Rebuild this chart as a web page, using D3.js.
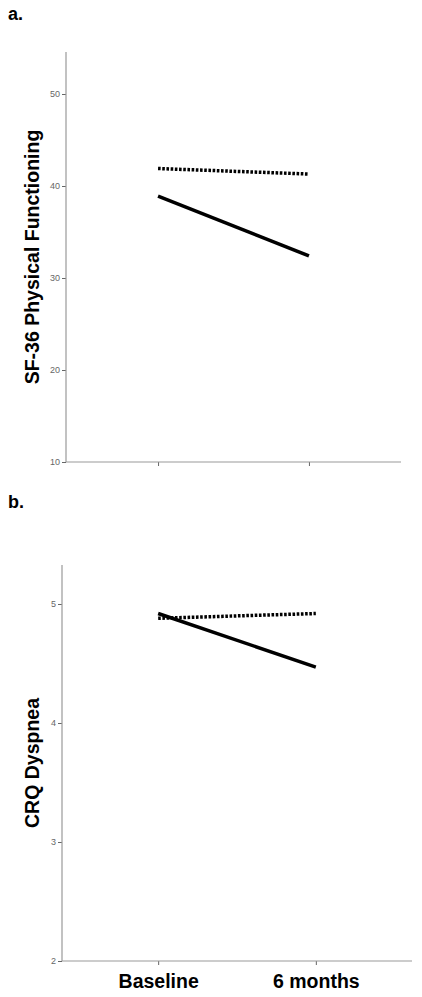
<!DOCTYPE html>
<html>
<head>
<meta charset="utf-8">
<script src="https://cdn.jsdelivr.net/npm/d3@7"></script>
<style>
  body { margin: 0; background: #fff; }
  svg { display: block; }
  .tick text { font-family: "Liberation Sans", Arial, sans-serif; }
</style>
</head>
<body>
<svg width="422" height="997"></svg>
<script>
// time points
var timepoints = ["Baseline", "6 months"];

// panel a: SF-36 Physical Functioning
var sf36Solid = [38.9, 32.4];
var sf36Dotted = [41.9, 41.3];
var sf36Ticks = [10, 20, 30, 40, 50];

// panel b: CRQ Dyspnea
var crqSolid = [4.92, 4.47];
var crqDotted = [4.88, 4.92];
var crqTicks = [2, 3, 4, 5];

var svg = d3.select("svg");

function drawPanel(opts) {
    var g = svg.append("g");

    var x = d3.scalePoint()
        .domain(timepoints)
        .range([opts.left, opts.right])
        .padding(0.61);

    var y = d3.scaleLinear()
        .domain(opts.domain)
        .range([opts.bottom, opts.bottomVal]);

    // panel letter
    g.append("text")
        .attr("x", 8)
        .attr("y", opts.letterY)
        .attr("font-family", "Liberation Sans, Arial, sans-serif")
        .attr("font-weight", "bold")
        .attr("font-size", 18)
        .text(opts.letter);

    // y axis
    var yAxis = g.append("g")
        .attr("transform", "translate(" + opts.left + ",0)")
        .call(d3.axisLeft(y).tickValues(opts.ticks).tickSize(4).tickPadding(2).tickFormat(d3.format("d")));
    yAxis.select(".domain").remove();
    yAxis.selectAll(".tick line").attr("stroke", "#666");
    yAxis.selectAll(".tick text").attr("fill", "#666").attr("font-size", 9);
    g.append("line")
        .attr("x1", opts.left).attr("x2", opts.left)
        .attr("y1", opts.top).attr("y2", opts.bottom)
        .attr("stroke", "#999").attr("stroke-width", 1.2);

    // x axis
    var xAxis = g.append("g")
        .attr("transform", "translate(0," + opts.bottom + ")")
        .call(d3.axisBottom(x).tickSize(4).tickPadding(9));
    xAxis.select(".domain").remove();
    xAxis.selectAll(".tick line").attr("stroke", "#666");
    xAxis.selectAll(".tick text")
        .attr("fill", "#000")
        .attr("font-size", 19.5)
        .attr("font-weight", "bold")
        .style("display", opts.showLabels ? null : "none");
    g.append("line")
        .attr("x1", opts.left).attr("x2", opts.right)
        .attr("y1", opts.bottom).attr("y2", opts.bottom)
        .attr("stroke", "#999").attr("stroke-width", 1.2);

    // y title
    g.append("text")
        .attr("transform", "translate(" + opts.titleX + "," + ((opts.top + opts.bottom) / 2) + ") rotate(-90)")
        .attr("text-anchor", "middle")
        .attr("font-family", "Liberation Sans, Arial, sans-serif")
        .attr("font-weight", "bold")
        .attr("font-size", 19.5)
        .text(opts.title);

    var line = d3.line()
        .x(function(d, i) { return x(timepoints[i]); })
        .y(function(d) { return y(d); });

    g.append("path")
        .datum(opts.dotted)
        .attr("d", line)
        .attr("fill", "none")
        .attr("stroke", "#000")
        .attr("stroke-width", 3.5)
        .attr("stroke-dasharray", "2.6,1.6");

    g.append("path")
        .datum(opts.solid)
        .attr("d", line)
        .attr("fill", "none")
        .attr("stroke", "#000")
        .attr("stroke-width", 3.5);
}

drawPanel({
    letter: "a.", letterY: 20,
    title: "SF-36 Physical Functioning", titleX: 39,
    left: 66, right: 401, top: 52, bottom: 462, bottomVal: 94,
    domain: [10, 50], ticks: sf36Ticks,
    solid: sf36Solid, dotted: sf36Dotted, showLabels: false
});

drawPanel({
    letter: "b.", letterY: 508,
    title: "CRQ Dyspnea", titleX: 39,
    left: 62, right: 412, top: 565, bottom: 961, bottomVal: 604,
    domain: [2, 5], ticks: crqTicks,
    solid: crqSolid, dotted: crqDotted, showLabels: true
});
</script>
</body>
</html>
